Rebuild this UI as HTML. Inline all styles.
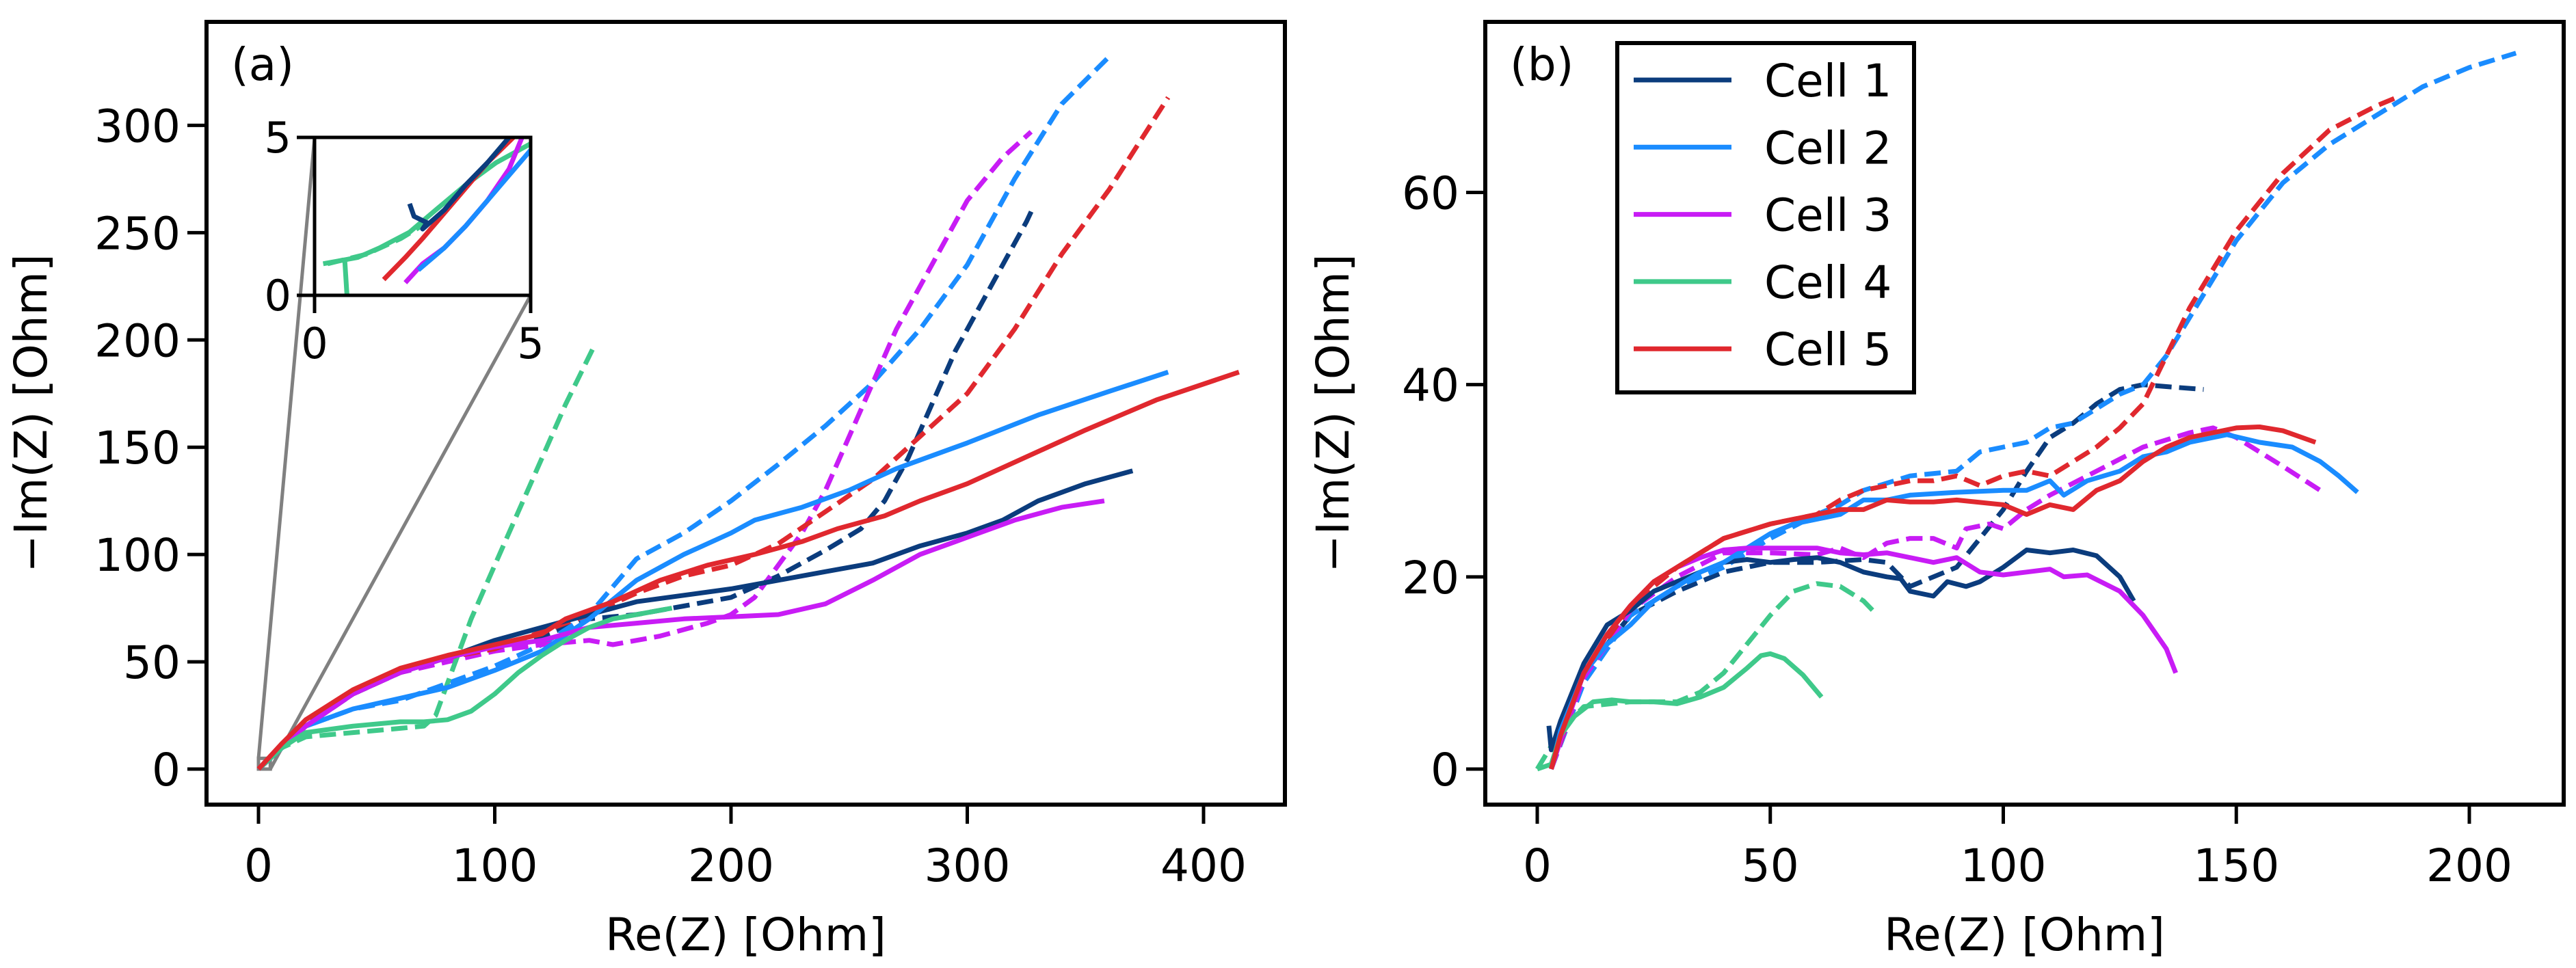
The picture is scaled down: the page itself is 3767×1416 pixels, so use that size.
<!DOCTYPE html>
<html><head><meta charset="utf-8"><style>
html,body{margin:0;padding:0;background:#fff}
svg{display:block}
text{font-family:"DejaVu Sans","Liberation Sans",sans-serif;fill:#000}
</style></head><body>
<svg id="fig" width="3767" height="1416" viewBox="0 0 3767 1416" xmlns="http://www.w3.org/2000/svg"></svg>
<script>
const cellNames=["Cell 1","Cell 2","Cell 3","Cell 4","Cell 5"];
const cellColors=["#0b3c7d","#1a8cff","#c81cf5","#3fc98a","#e0282e"];
const xTicksA=[0,100,200,300,400];
const yTicksA=[0,50,100,150,200,250,300];
const xTicksB=[0,50,100,150,200];
const yTicksB=[0,20,40,60];
const aSolid1=[[0,0],[10,10],[20,20],[40,35],[60,45],[80,52],[100,60],[120,66],[140,72],[160,78],[180,81],[200,84],[220,88],[240,92],[260,96],[280,104],[300,110],[315,116],[330,125],[350,133],[370,139]];
const aDash1=[[0,0],[20,20],[40,35],[60,45],[80,52],[100,56],[120,62],[140,70],[160,72],[180,76],[200,80],[220,90],[240,102],[255,112],[265,125],[275,145],[285,170],[295,195],[305,215],[315,235],[325,255],[328,262]];
const aSolid2=[[0,0],[10,10],[20,20],[40,28],[60,33],[80,38],[100,46],[120,55],[140,70],[160,88],[180,100],[200,110],[210,116],[230,122],[250,130],[270,140],[300,152],[330,165],[360,176],[385,185]];
const aDash2=[[0,0],[20,20],[40,28],[60,32],[80,40],[100,48],[120,58],[140,72],[160,98],[180,110],[200,125],[220,142],[240,160],[260,180],[280,205],[300,235],[320,275],[340,310],[360,332]];
const aSolid3=[[0,0],[20,20],[40,35],[60,45],[80,52],[100,57],[120,60],[140,66],[160,68],[180,70],[200,71],[220,72],[240,77],[260,88],[280,100],[300,108],[320,116],[340,122],[358,125]];
const aDash3=[[0,0],[20,20],[40,35],[60,45],[80,50],[100,55],[120,58],[140,60],[150,58],[170,62],[190,68],[200,72],[210,80],[220,95],[230,110],[240,130],[250,155],[260,180],[270,205],[280,225],[290,245],[300,265],[315,285],[327,297]];
const aSolid4=[[0,0],[10,10],[20,17],[40,20],[60,22],[70,22],[80,23],[90,27],[100,35],[110,45],[120,53],[130,60],[140,66],[150,70],[160,72],[175,75]];
const aDash4=[[0,0],[10,10],[20,15],[40,17],[60,19],[70,20],[75,25],[80,40],[85,55],[90,70],[100,95],[110,120],[120,145],[130,170],[142,197]];
const aSolid5=[[0,0],[10,12],[20,23],[40,37],[60,47],[80,53],[100,58],[120,63],[130,70],[150,78],[170,88],[190,95],[210,100],[230,106],[245,112],[265,118],[280,125],[300,133],[320,143],[350,158],[380,172],[415,185]];
const aDash5=[[0,0],[20,22],[40,35],[60,45],[80,52],[100,56],[120,64],[140,72],[160,82],[180,90],[200,95],[220,105],[240,120],[260,135],[280,155],[300,175],[320,205],[340,240],[360,270],[385,313]];
const iSolid1=[[2.2,2.9],[2.3,2.5],[2.6,2.3],[2.5,2.1],[3,2.7],[3.5,3.5],[4,4.2],[4.5,5]];
const iSolid2=[[2.4,0.8],[3,1.5],[3.5,2.2],[4,3],[4.5,3.8],[5,4.6]];
const iSolid3=[[2.1,0.4],[2.5,1],[3,1.5],[3.5,2.2],[4,3],[4.5,4],[4.8,5]];
const iSolid4=[[0.2,1.0],[1,1.2],[1.5,1.5],[2.2,2.0],[2.8,2.7],[3.5,3.5],[4.2,4.2],[5,4.8]];
const iDrop4=[[0.7,1.1],[0.75,0]];
const iDash4=[[0.3,1.0],[1.2,1.3],[2,1.8],[2.6,2.3]];
const iSolid5=[[1.6,0.5],[2.1,1.2],[2.5,1.8],[3,2.6],[3.5,3.4],[4,4.2],[4.6,5]];
const bSolid1=[[2.5,4.5],[3,2],[5,5],[10,11],[15,15],[20,16.5],[25,18.5],[30,19.5],[35,20.5],[40,21.5],[45,21.8],[50,21.5],[55,21.8],[60,22],[65,21.5],[70,20.5],[75,20],[78,19.8],[80,18.5],[85,18],[88,19.5],[92,19],[95,19.5],[100,21],[105,22.8],[110,22.5],[115,22.8],[120,22.2],[125,20],[128,17.5]];
const bDash1=[[3,2],[10,10],[20,16],[30,18.5],[40,20.5],[50,21.5],[60,21.5],[70,21.8],[75,21.5],[80,19],[85,20],[90,21],[95,24],[100,27],[105,31],[110,34.5],[115,36],[120,38],[125,39.5],[130,40],[135,39.8],[143,39.5]];
const bSolid2=[[3,0],[5,4],[10,10],[15,13],[20,15],[25,17.5],[30,19],[35,20.5],[40,21.5],[45,23],[50,24.5],[55,25.5],[60,26],[65,26.5],[70,28],[75,28],[80,28.5],[90,28.8],[100,29],[105,29],[110,30],[113,28.5],[118,30],[125,31],[130,32.5],[135,33],[140,34],[148,34.8],[155,34],[162,33.5],[168,32],[172,30.5],[176,28.8]];
const bDash2=[[3,0],[10,9],[20,16],[30,19],[40,21],[50,24],[60,26.5],[65,27.5],[70,29],[80,30.5],[90,31],[95,33],[100,33.5],[105,34],[110,35.5],[115,36],[120,37.5],[125,39],[130,40],[135,43],[140,47],[145,51],[150,55],[155,58],[160,61],[170,65],[180,68],[190,71],[200,73],[210,74.5]];
const bSolid3=[[3,0],[5,3],[10,10],[15,14],[20,17],[25,19.5],[30,21],[35,22],[40,22.8],[45,23],[50,23],[55,23],[60,23],[65,22.5],[70,22.3],[75,22.5],[80,22],[85,21.5],[90,22],[95,20.5],[100,20.2],[105,20.5],[110,20.8],[113,20],[118,20.2],[125,18.5],[130,16],[135,12.5],[137,10]];
const bDash3=[[3,0],[10,9.5],[20,16.5],[30,20],[40,22.5],[50,22.5],[60,22.3],[65,23],[70,22],[75,23.5],[80,24],[85,24],[90,23],[92,25],[97,25.5],[100,25],[105,27],[110,28.5],[120,31],[130,33.5],[140,35],[145,35.5],[150,34.5],[155,33],[160,31.5],[168,29]];
const bSolid4=[[0,0],[3,0.5],[5,3.5],[8,5.5],[12,7],[16,7.2],[20,7],[25,7],[30,6.8],[35,7.5],[40,8.5],[45,10.5],[48,11.8],[50,12],[53,11.5],[57,9.8],[61,7.5]];
const bDash4=[[0,0],[5,4],[10,6.5],[20,7],[30,7],[35,8],[40,10],[45,13],[50,16],[55,18.5],[60,19.3],[65,19],[70,17.5],[73,16]];
const bSolid5=[[3,0],[5,3.5],[10,10],[15,14],[20,17],[25,19.5],[30,21],[35,22.5],[40,24],[50,25.5],[60,26.5],[65,27],[70,27],[75,28],[80,27.8],[85,27.8],[90,28],[100,27.5],[105,26.5],[110,27.5],[115,27],[120,29],[125,30],[130,32],[135,33.5],[140,34.5],[150,35.5],[155,35.6],[160,35.2],[167,34]];
const bDash5=[[3,0],[10,10],[20,17],[30,21],[40,24],[50,25.5],[60,26.5],[65,28],[70,29],[80,30],[85,30],[90,30.5],[95,29.5],[100,30.5],[105,31],[110,30.5],[115,32],[120,33.5],[125,35.5],[130,38],[135,43],[140,48],[150,56],[160,62],[170,66.5],[180,69],[185,70]];

const NS="http://www.w3.org/2000/svg";
const svg=document.getElementById('fig');
function mk(tag,attrs,parent){const e=document.createElementNS(NS,tag);for(const k in attrs)e.setAttribute(k,attrs[k]);(parent||svg).appendChild(e);return e;}
function lin(d0,d1,p0,p1){return v=>p0+(v-d0)*(p1-p0)/(d1-d0);}
const LW=7, DASH="24 11";

function drawSeries(g,data,sx,sy,color,dashed,name){
  const d=data.map((p,i)=>(i?'L':'M')+sx(p[0]).toFixed(1)+' '+sy(p[1]).toFixed(1)).join(' ');
  const a={d:d,fill:'none',stroke:color,'stroke-width':LW,'stroke-linejoin':'round'};
  if(dashed)a['stroke-dasharray']=DASH;
  const p=mk('path',a,g);
  
  
  return p;
}
function axes(name,L,R,T,B,sx,sy,xt,yt,label,xlab,ylabX){
  const g=mk('g',{});
  
  
  xt.forEach(v=>{const x=sx(v);
    mk('line',{x1:x,x2:x,y1:B,y2:B+28,stroke:'#000','stroke-width':5},g);
    const t=mk('text',{x:x,y:1289,'text-anchor':'middle','font-size':66},g);t.textContent=v;
    });
  yt.forEach(v=>{const y=sy(v);
    mk('line',{x1:L-28,x2:L,y1:y,y2:y,stroke:'#000','stroke-width':5},g);
    const t=mk('text',{x:L-38,y:y+24,'text-anchor':'end','font-size':66},g);t.textContent=v;
    });
  const xl=mk('text',{x:(L+R)/2,y:1390,'text-anchor':'middle','font-size':66},g);xl.textContent=xlab;
  
  const cy=(T+B)/2;
  const yl=mk('text',{x:ylabX,y:cy,'text-anchor':'middle','font-size':66,transform:`rotate(-90 ${ylabX} ${cy})`},g);yl.textContent='−Im(Z) [Ohm]';
  
  const pl=mk('text',{x:L+36,y:117,'font-size':66},g);pl.textContent=label;
  
  return g;
}
const AL=302,AR=1879,AT=32,AB=1177;
const axA=lin(0,400,378,1760), ayA=lin(0,300,1125,183.4);
mk('defs',{}).innerHTML=`<clipPath id="clipA"><rect x="${AL}" y="${AT}" width="${AR-AL}" height="${AB-AT}"/></clipPath><clipPath id="clipB"><rect x="2172" y="32" width="1577" height="1145"/></clipPath><clipPath id="clipI"><rect x="460" y="201" width="316" height="231"/></clipPath>`;
axes('panel-a-axes',AL,AR,AT,AB,axA,ayA,xTicksA,yTicksA,'(a)','Re(Z) [Ohm]',68);
const gA=mk('g',{'clip-path':'url(#clipA)'});

const aS=[aSolid1,aSolid2,aSolid3,aSolid4,aSolid5], aD=[aDash1,aDash2,aDash3,aDash4,aDash5];
const IL=460,IR=776,IT=201,IB=432;
mk('rect',{x:axA(0),y:ayA(5),width:axA(5)-axA(0),height:ayA(0)-ayA(5),fill:'none',stroke:'#808080','stroke-width':5},gA);
const c1=mk('line',{x1:IL,y1:IT,x2:axA(0),y2:ayA(5),stroke:'#808080','stroke-width':5},gA);

const c2=mk('line',{x1:IR,y1:IB,x2:axA(5),y2:ayA(0),stroke:'#808080','stroke-width':5},gA);

for(let i=0;i<5;i++){drawSeries(gA,aD[i],axA,ayA,cellColors[i],true,'a-dashed-cell-'+(i+1));}
for(let i=0;i<5;i++){drawSeries(gA,aS[i],axA,ayA,cellColors[i],false,'a-solid-cell-'+(i+1));}
mk('rect',{x:AL,y:AT,width:AR-AL,height:AB-AT,fill:'none',stroke:'#000','stroke-width':6});
const ix=lin(0,5,IL,IR), iy=lin(0,5,IB,IT);
const gIn=mk('g',{});

mk('rect',{x:IL,y:IT,width:IR-IL,height:IB-IT,fill:'#fff'},gIn);
const gI=mk('g',{'clip-path':'url(#clipI)'},gIn);
drawSeries(gI,iDash4,ix,iy,cellColors[3],true,'inset-dashed-cell-4');
drawSeries(gI,iDrop4,ix,iy,cellColors[3],false,'inset-cell-4-drop');
drawSeries(gI,iSolid4,ix,iy,cellColors[3],false,'inset-cell-4');
drawSeries(gI,iSolid3,ix,iy,cellColors[2],false,'inset-cell-3');
drawSeries(gI,iSolid2,ix,iy,cellColors[1],false,'inset-cell-2');
drawSeries(gI,iSolid5,ix,iy,cellColors[4],false,'inset-cell-5');
drawSeries(gI,iSolid1,ix,iy,cellColors[0],false,'inset-cell-1');
mk('rect',{x:IL,y:IT,width:IR-IL,height:IB-IT,fill:'none',stroke:'#000','stroke-width':5},gIn);
[0,5].forEach(v=>{
  mk('line',{x1:ix(v),x2:ix(v),y1:IB,y2:IB+26,stroke:'#000','stroke-width':5},gIn);
  const t=mk('text',{x:ix(v),y:IB+92,'text-anchor':'middle','font-size':62},gIn);t.textContent=v;
  
  mk('line',{x1:IL-26,x2:IL,y1:iy(v),y2:iy(v),stroke:'#000','stroke-width':5},gIn);
  const u=mk('text',{x:IL-34,y:iy(v)+22,'text-anchor':'end','font-size':62},gIn);u.textContent=v;
  
});
const BL=2172,BR=3749,BT=32,BB=1177;
const bx=lin(0,200,2248,3611), by=lin(0,60,1125,281.5);
axes('panel-b-axes',BL,BR,BT,BB,bx,by,xTicksB,yTicksB,'(b)','Re(Z) [Ohm]',1972);
const gB=mk('g',{'clip-path':'url(#clipB)'});

const bS=[bSolid1,bSolid2,bSolid3,bSolid4,bSolid5], bD=[bDash1,bDash2,bDash3,bDash4,bDash5];
for(let i=0;i<5;i++){drawSeries(gB,bD[i],bx,by,cellColors[i],true,'b-dashed-cell-'+(i+1));}
for(let i=0;i<5;i++){drawSeries(gB,bS[i],bx,by,cellColors[i],false,'b-solid-cell-'+(i+1));}
mk('rect',{x:BL,y:BT,width:BR-BL,height:BB-BT,fill:'none',stroke:'#000','stroke-width':6});
const lg=mk('g',{});

mk('rect',{x:2365,y:63,width:434,height:511,fill:'#fff',stroke:'#000','stroke-width':6},lg);
cellNames.forEach((n,i)=>{
  const y=117+i*98.3;
  const e=mk('g',{},lg);
  
  mk('line',{x1:2389,x2:2532,y1:y,y2:y,stroke:cellColors[i],'stroke-width':LW},e);
  const t=mk('text',{x:2580,y:y+24,'font-size':66},e);t.textContent=n;
});
</script>
</body></html>
